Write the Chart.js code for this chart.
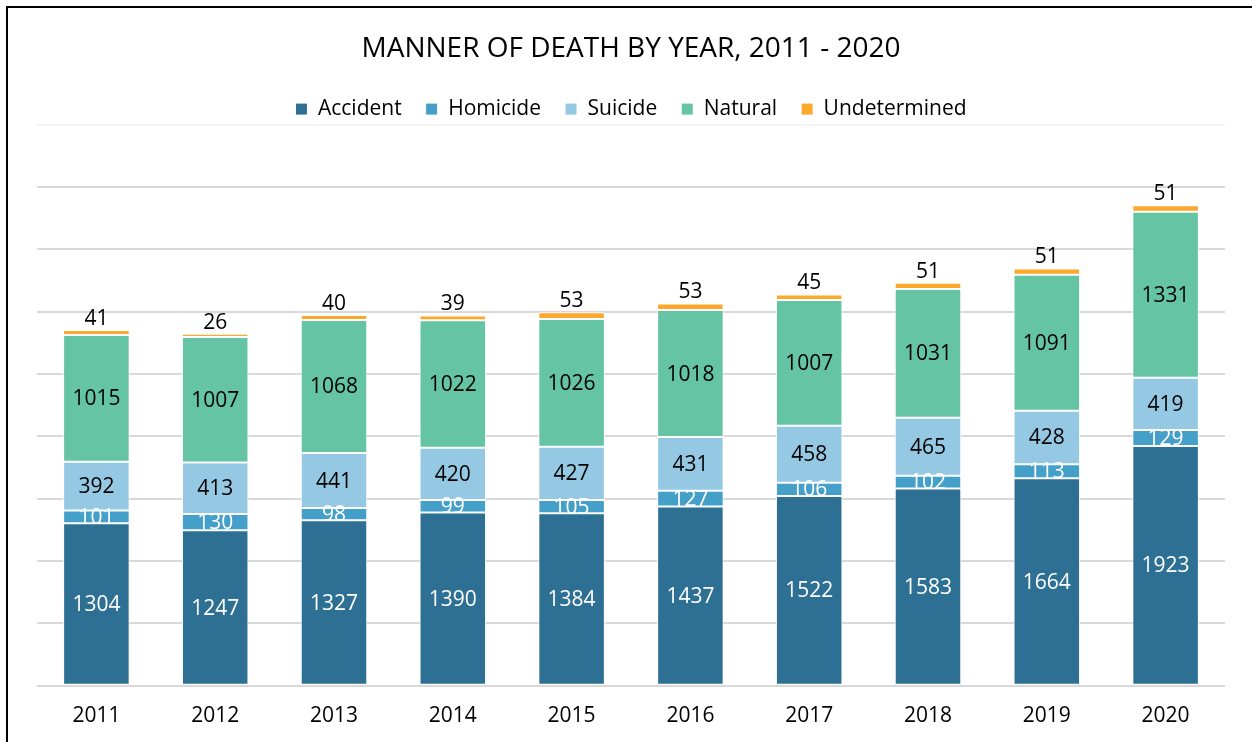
<!DOCTYPE html>
<html>
<head>
<meta charset="utf-8">
<title>Manner of death by year</title>
<script src="https://cdn.jsdelivr.net/npm/chart.js@4.4.1/dist/chart.umd.min.js"></script>
<style>
    html, body { margin: 0; padding: 0; background: #fff; overflow: hidden; }
    #frame { position: absolute; left: 6px; top: 6px; width: 1400px; height: 900px; border: 2px solid #000; box-sizing: border-box; }
    #chart { position: absolute; left: 0; top: 0; }
</style>
</head>
<body>
<div id="frame"></div>
<canvas id="chart" width="1252" height="742"></canvas>
<script>
var years = ['2011', '2012', '2013', '2014', '2015', '2016', '2017', '2018', '2019', '2020'];
var accident = [1304, 1247, 1327, 1390, 1384, 1437, 1522, 1583, 1664, 1923];
var homicide = [101, 130, 98, 99, 105, 127, 106, 102, 113, 129];
var suicide = [392, 413, 441, 420, 427, 431, 458, 465, 428, 419];
var natural = [1015, 1007, 1068, 1022, 1026, 1018, 1007, 1031, 1091, 1331];
var undetermined = [41, 26, 40, 39, 53, 53, 45, 51, 51, 51];

var FONT = '"Open Sans", sans-serif';

// value labels, white on the two dark segments, black elsewhere, last one above the bar
var labelColors = ['#fff', '#fff', '#000', '#000', '#000'];
var barLabels = {
    id: 'barLabels',
    afterDatasetsDraw: function (chart) {
        var ctx = chart.ctx;
        ctx.save();
        ctx.font = '21px ' + FONT;
        ctx.textAlign = 'center';
        chart.data.datasets.forEach(function (ds, i) {
            var meta = chart.getDatasetMeta(i);
            meta.data.forEach(function (bar, j) {
                var v = ds.data[j];
                ctx.fillStyle = labelColors[i];
                if (i === chart.data.datasets.length - 1) {
                    ctx.textBaseline = 'alphabetic';
                    ctx.fillText(v, bar.x, bar.y - 5);
                } else {
                    ctx.textBaseline = 'middle';
                    ctx.fillText(v, bar.x, (bar.y + bar.base) / 2 + 1);
                }
            });
        });
        ctx.restore();
    }
};

// legend box is a bit too tall for this layout, trim it so the plot starts higher
var legendTrim = {
    id: 'legendTrim',
    beforeInit: function (chart) {
        var fit = chart.legend.fit;
        chart.legend.fit = function () {
            fit.call(this);
            this.height -= 5;
        };
    }
};

function series(label, data, color) {
    return {
        label: label,
        data: data,
        backgroundColor: color,
        borderColor: '#fff',
        borderWidth: 1,
        borderSkipped: false,
        barPercentage: 0.56,
        categoryPercentage: 1
    };
}

new Chart(document.getElementById('chart').getContext('2d'), {
    type: 'bar',
    data: {
        labels: years,
        datasets: [
            series('Accident', accident, '#2e7093'),
            series('Homicide', homicide, '#45a0c9'),
            series('Suicide', suicide, '#95c8e2'),
            series('Natural', natural, '#64c4a4'),
            series('Undetermined', undetermined, '#fba82d')
        ]
    },
    options: {
        responsive: false,
        animation: false,
        layout: {
            padding: { left: 37, right: 27, top: 0, bottom: -5 }
        },
        plugins: {
            title: {
                display: true,
                text: 'MANNER OF DEATH BY YEAR, 2011 - 2020',
                color: '#000',
                font: { family: FONT, size: 28, weight: 'normal' },
                padding: { top: 32, bottom: 9 }
            },
            legend: {
                display: true,
                labels: {
                    color: '#000',
                    font: { family: FONT, size: 21 },
                    boxWidth: 12,
                    boxHeight: 12,
                    padding: 24
                }
            },
            tooltip: { enabled: false }
        },
        scales: {
            x: {
                stacked: true,
                grid: { display: false, drawTicks: false, tickLength: 0 },
                border: { display: false },
                ticks: {
                    color: '#000',
                    padding: 18,
                    font: { family: FONT, size: 21 }
                }
            },
            y: {
                stacked: true,
                min: 0,
                max: 4500,
                border: { display: false },
                grid: {
                    drawTicks: false,
                    tickLength: 0,
                    lineWidth: 2,
                    color: function (c) {
                        return c.tick && c.tick.value === 4500 ? '#f4f4f4' : '#d9d9d9';
                    }
                },
                ticks: { display: false, stepSize: 500 }
            }
        }
    },
    plugins: [legendTrim, barLabels]
});
</script>
</body>
</html>
